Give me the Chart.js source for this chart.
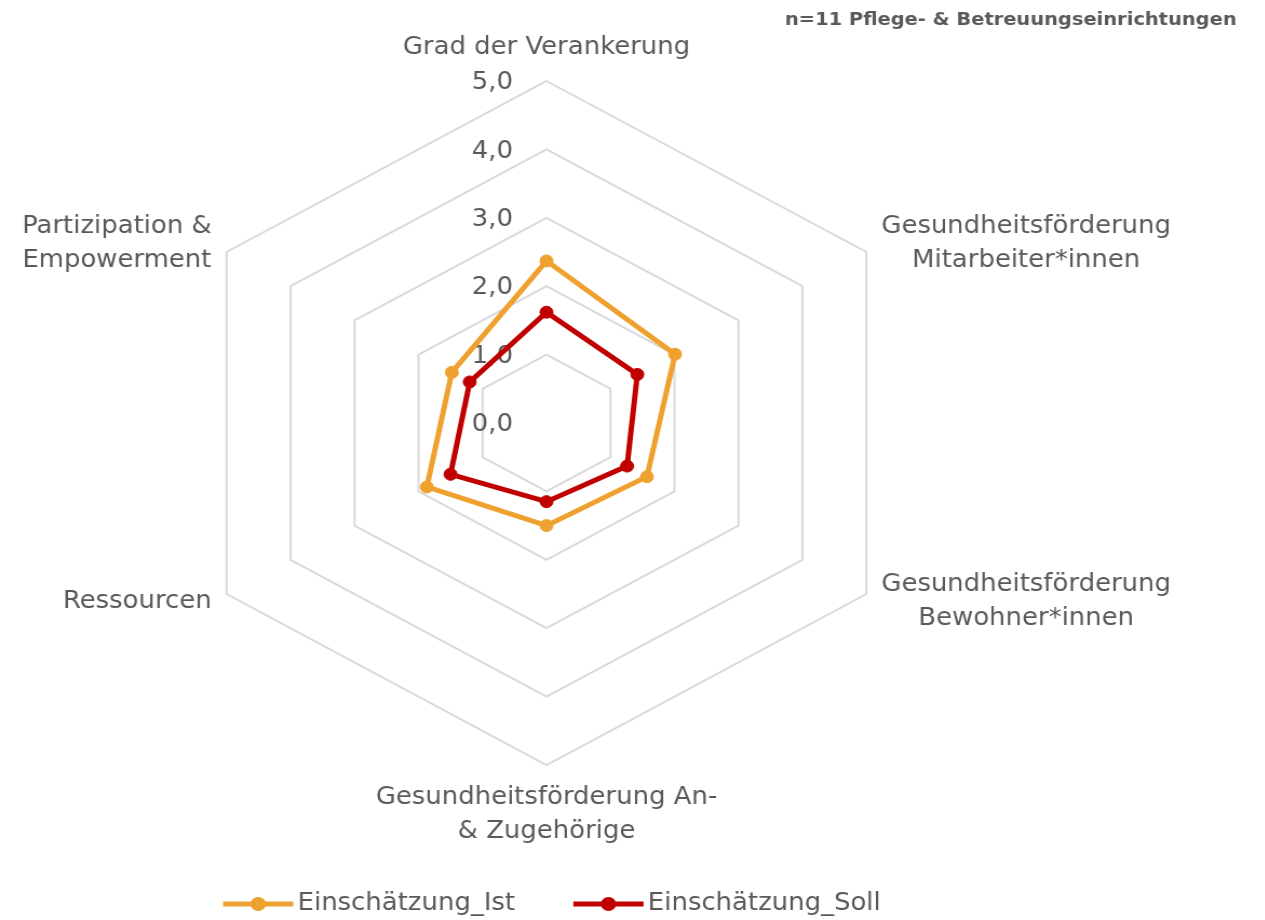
<!DOCTYPE html>
<html lang="de">
<head>
<meta charset="utf-8">
<title>Einschätzung Ist / Soll</title>
<script src="https://cdn.jsdelivr.net/npm/chart.js@4/dist/chart.umd.min.js"></script>
<style>
    html, body { margin: 0; padding: 0; background: #fff; overflow: hidden; }
    /* das Original ist horizontal gestreckt */
    #rahmen { width: 1171px; height: 920px; transform: scaleX(1.08); transform-origin: 0 0; }
</style>
</head>
<body>
<div id="rahmen">
    <canvas id="myChart" width="1171" height="920"></canvas>
</div>
<script>
const kategorien = [
    ['Grad der Verankerung'],
    ['Gesundheitsförderung', 'Mitarbeiter*innen'],
    ['Gesundheitsförderung', 'Bewohner*innen'],
    ['Gesundheitsförderung An-', '& Zugehörige'],
    ['Ressourcen'],
    ['Partizipation &', 'Empowerment']
]
const werteIst = [2.37, 2.01, 1.57, 1.50, 1.87, 1.48]
const werteSoll = [1.62, 1.42, 1.26, 1.15, 1.50, 1.20]
const tickLabels = ['0,0', '1,0', '2,0', '3,0', '4,0', '5,0']
const untertitel = 'n=11 Pflege- & Betreuungseinrichtungen'

const grau = '#595959'
const schrift = '24px "DejaVu Sans"'

// Achsenbeschriftung 0,0 ... 5,0 links neben der senkrechten Achse, unter den Linien
const tickPlugin = {
    id: 'tickBeschriftung',
    beforeDatasetsDraw(chart) {
        const ctx = chart.ctx
        const r = chart.scales.r
        ctx.save()
        ctx.font = schrift
        ctx.fillStyle = grau
        ctx.textAlign = 'right'
        ctx.textBaseline = 'middle'
        r.ticks.forEach((tick, i) => {
            const y = r.yCenter - r.getDistanceFromCenterForValue(tick.value) + 2
            ctx.fillText(tickLabels[i], r.xCenter - 31, y)
        })
        ctx.restore()
    }
}

// Kategorien, Legende und Untertitel
const textPlugin = {
    id: 'texte',
    afterDraw(chart) {
        const ctx = chart.ctx
        const r = chart.scales.r
        const lh = 33.6
        ctx.save()
        ctx.font = schrift
        ctx.fillStyle = grau
        ctx.textBaseline = 'middle'
        ctx.textAlign = 'center'

        chart.data.labels.forEach((zeilen, i) => {
            const p = r.getPointPosition(i, r.drawingArea + 16)
            const cx = Math.cos(p.angle)
            const cy = Math.sin(p.angle)
            const h = zeilen.length * lh
            const w = Math.max(...zeilen.map(t => ctx.measureText(t).width))
            let mx = p.x
            let oben = p.y - h / 2
            if (cx > 0.1) mx = p.x + w / 2
            else if (cx < -0.1) mx = p.x - w / 2
            else oben = cy < 0 ? p.y - h : p.y
            zeilen.forEach((t, k) => ctx.fillText(t, mx, oben + lh * (k + 0.5)))
        })

        // Legende
        const markW = 65
        const abstand = 4
        const itemGap = 54
        const items = chart.data.datasets.map(ds => ({
            text: ds.label,
            farbe: ds.borderColor,
            w: ctx.measureText(ds.label).width
        }))
        let gesamt = itemGap * (items.length - 1)
        items.forEach(it => { gesamt += markW + abstand + it.w })
        let x = r.xCenter + 5 - gesamt / 2
        const y = chart.height - 16
        items.forEach(it => {
            ctx.strokeStyle = it.farbe
            ctx.fillStyle = it.farbe
            ctx.lineWidth = 5
            ctx.beginPath()
            ctx.moveTo(x, y)
            ctx.lineTo(x + markW, y)
            ctx.stroke()
            ctx.beginPath()
            ctx.arc(x + markW / 2, y, 7, 0, Math.PI * 2)
            ctx.fill()
            ctx.fillStyle = grau
            ctx.textAlign = 'left'
            ctx.fillText(it.text, x + markW + abstand, y)
            x += markW + abstand + it.w + itemGap
        })

        // Untertitel oben rechts
        ctx.font = 'bold 18px "DejaVu Sans"'
        ctx.fillStyle = grau
        ctx.textAlign = 'right'
        ctx.fillText(untertitel, 1145, 20)
        ctx.restore()
    }
}

function cargarGrafico() {
    const ctx = document.getElementById('myChart')

    new Chart(ctx, {
        type: 'radar',
        data: {
            labels: kategorien,
            datasets: [{
                label: 'Einschätzung_Ist',
                data: werteIst,
                borderColor: '#EFA12F',
                backgroundColor: '#EFA12F',
                pointBackgroundColor: '#EFA12F',
                pointBorderColor: '#EFA12F',
                borderWidth: 5,
                pointRadius: 6,
                pointBorderWidth: 1,
                fill: false
            }, {
                label: 'Einschätzung_Soll',
                data: werteSoll,
                borderColor: '#C00000',
                backgroundColor: '#C00000',
                pointBackgroundColor: '#C00000',
                pointBorderColor: '#C00000',
                borderWidth: 5,
                pointRadius: 6,
                pointBorderWidth: 1,
                fill: false
            }]
        },
        options: {
            responsive: false,
            animation: false,
            devicePixelRatio: 1,
            layout: {
                padding: { left: 164, right: 322, top: 81, bottom: 154 }
            },
            plugins: {
                legend: { display: false },
                tooltip: { enabled: false }
            },
            scales: {
                r: {
                    min: 0,
                    max: 5,
                    beginAtZero: true,
                    ticks: { display: false, stepSize: 1 },
                    angleLines: { display: false },
                    grid: { color: '#d9d9d9', lineWidth: 2 },
                    pointLabels: { display: false }
                }
            }
        },
        plugins: [tickPlugin, textPlugin]
    })
}

cargarGrafico()
</script>
</body>
</html>
